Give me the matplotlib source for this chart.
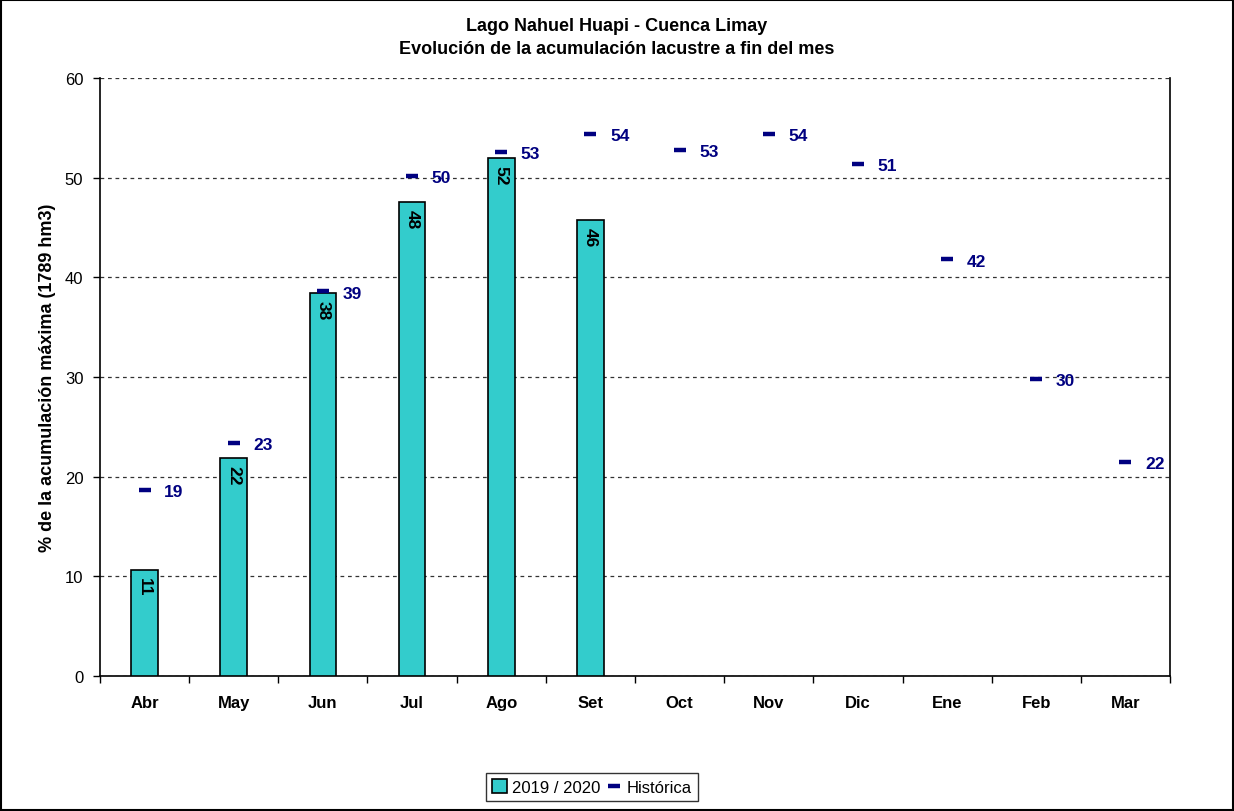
import matplotlib
matplotlib.use("Agg")
import matplotlib.pyplot as plt
from matplotlib.patches import Rectangle, Patch
from matplotlib.lines import Line2D
import numpy as np

plt.rcParams['font.family'] = ['Liberation Sans', 'DejaVu Sans']

months = ["Abr", "May", "Jun", "Jul", "Ago", "Set", "Oct", "Nov", "Dic", "Ene", "Feb", "Mar"]
actual_2019_2020 = [10.6, 21.9, 38.4, 47.6, 52.0, 45.8]
historica = [18.7, 23.4, 38.6, 50.2, 52.6, 54.4, 52.8, 54.4, 51.4, 41.8, 29.8, 21.5]

title = "Lago Nahuel Huapi - Cuenca Limay\nEvolución de la acumulación lacustre a fin del mes"
ylabel = "% de la acumulación máxima (1789 hm3)"

teal = "#33CCCC"
navy = "#000080"

fig = plt.figure(figsize=(12.34, 8.12), dpi=100)
ax = fig.add_axes([100 / 1234, 135 / 812, 1070 / 1234, 598 / 812])

x = np.arange(len(months))
xb = x[:len(actual_2019_2020)]
ax.bar(xb, actual_2019_2020, width=0.3, color=teal, edgecolor="black", linewidth=1.2, zorder=3)
for xi, v in zip(xb, actual_2019_2020):
    ax.text(xi, v - 0.7, f"{v:.0f}", rotation=-90, ha="center", va="top",
            fontsize=12.5, fontweight="bold", color="black", zorder=4)

ax.plot(x, historica, linestyle="none", marker="_", markersize=9, markeredgewidth=3.2,
        color=navy, zorder=5)
for xi, v in zip(x, historica):
    ax.text(xi + 0.22, v - 0.2, f"{v:.0f}", ha="left", va="center",
            fontsize=12.5, fontweight="bold", color=navy, zorder=5)

ax.set_xlim(-0.5, len(months) - 0.5)
ax.set_ylim(0, 60)
ax.set_yticks(range(0, 61, 10))
ax.set_xticks(x)
ax.set_xticklabels(months, fontsize=12, fontweight="bold")
ax.set_xticks(np.arange(-0.5, len(months), 1.0), minor=True)
ax.tick_params(axis="x", which="major", length=0, pad=14, top=False)
ax.tick_params(axis="x", which="minor", length=5, width=1, direction="out", top=False)
ax.tick_params(axis="y", labelsize=12, length=5, width=1, direction="out", pad=7,
               right=False)

ax.yaxis.grid(True, linestyle=(0, (3, 3)), color="#333333", linewidth=0.9, zorder=0)
ax.set_axisbelow(True)
ax.spines["top"].set_visible(False)
for s in ("left", "bottom", "right"):
    ax.spines[s].set_linewidth(1.2)
    ax.spines[s].set_color("black")

ax.set_ylabel(ylabel, fontsize=13, fontweight="bold", labelpad=6)
fig.text(0.5, 1 - 38 / 812, title, ha="center", va="center",
         fontsize=13, fontweight="bold", linespacing=1.5)

handles = [Patch(facecolor=teal, edgecolor="black", linewidth=1.2),
           Line2D([], [], linestyle="none", marker="_", markersize=9, markeredgewidth=3.2, color=navy)]
leg = fig.legend(handles, ["2019 / 2020", "Histórica"], loc="center",
                 bbox_to_anchor=(592 / 1234, 1 - 788 / 812), ncol=2, fontsize=12,
                 frameon=True, fancybox=False, edgecolor="black", handlelength=0.9,
                 handleheight=0.9, handletextpad=0.3, columnspacing=0.4, borderpad=0.35)
leg.get_frame().set_linewidth(1.0)

fig.patches.append(Rectangle((0.001, 0.001), 0.998, 0.998, transform=fig.transFigure,
                             fill=False, edgecolor="black", linewidth=1.5))

fig.savefig("out.png", dpi=100)
